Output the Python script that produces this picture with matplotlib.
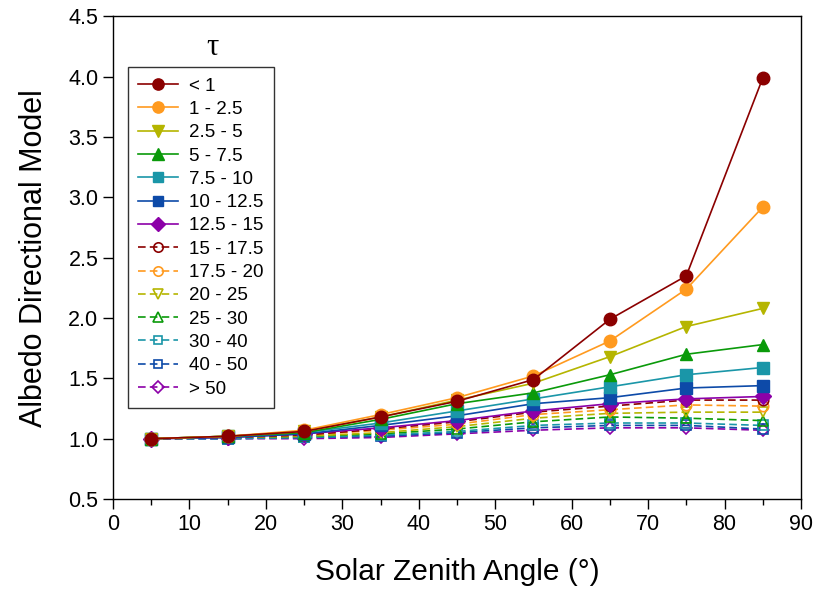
import matplotlib
matplotlib.use("Agg")
import matplotlib.pyplot as plt

plt.rcParams['font.family'] = ['Liberation Sans', 'DejaVu Sans']
plt.rcParams['lines.scale_dashes'] = False

sza = [5, 15, 25, 35, 45, 55, 65, 75, 85]

labels = ["< 1", "1 - 2.5", "2.5 - 5", "5 - 7.5", "7.5 - 10", "10 - 12.5",
          "12.5 - 15", "15 - 17.5", "17.5 - 20", "20 - 25", "25 - 30",
          "30 - 40", "40 - 50", "> 50"]

tau_lt1     = [1.00, 1.02, 1.06, 1.18, 1.31, 1.49, 1.99, 2.35, 3.99]
tau_1_25    = [1.00, 1.02, 1.07, 1.20, 1.34, 1.52, 1.81, 2.24, 2.92]
tau_25_5    = [1.00, 1.02, 1.06, 1.18, 1.32, 1.46, 1.68, 1.93, 2.08]
tau_5_75    = [1.00, 1.02, 1.05, 1.16, 1.29, 1.38, 1.53, 1.70, 1.78]
tau_75_10   = [1.00, 1.02, 1.05, 1.13, 1.23, 1.33, 1.43, 1.53, 1.59]
tau_10_125  = [1.00, 1.01, 1.04, 1.11, 1.19, 1.29, 1.34, 1.42, 1.44]
tau_125_15  = [1.00, 1.01, 1.04, 1.09, 1.15, 1.23, 1.29, 1.33, 1.35]
tau_15_175  = [1.00, 1.01, 1.03, 1.08, 1.14, 1.22, 1.27, 1.32, 1.32]
tau_175_20  = [1.00, 1.01, 1.03, 1.07, 1.12, 1.20, 1.24, 1.28, 1.27]
tau_20_25   = [1.00, 1.01, 1.02, 1.05, 1.10, 1.17, 1.21, 1.22, 1.22]
tau_25_30   = [1.00, 1.01, 1.02, 1.04, 1.08, 1.14, 1.18, 1.17, 1.15]
tau_30_40   = [1.00, 1.00, 1.01, 1.03, 1.06, 1.11, 1.13, 1.13, 1.11]
tau_40_50   = [1.00, 1.00, 1.01, 1.02, 1.05, 1.09, 1.11, 1.11, 1.08]
tau_gt50    = [1.00, 1.00, 1.00, 1.01, 1.04, 1.07, 1.09, 1.09, 1.07]

series = [tau_lt1, tau_1_25, tau_25_5, tau_5_75, tau_75_10, tau_10_125,
          tau_125_15, tau_15_175, tau_175_20, tau_20_25, tau_25_30,
          tau_30_40, tau_40_50, tau_gt50]

colors = ['#8b0000', '#ff9a1f', '#b5b500', '#0a9a0a', '#1a96a8', '#0d4aa8', '#8c00a8']
markers = ['o', 'o', 'v', '^', 's', 's', 'D']

fig = plt.figure(figsize=(8.17, 5.89), dpi=100)
ax = fig.add_axes([0.1383, 0.1528, 0.8421, 0.8192])

for i, (lab, vals) in enumerate(zip(labels, series)):
    c = colors[i % 7]
    m = markers[i % 7]
    filled = i < 7
    ms = 9 if m != 'D' else 8
    if m == 's':
        ms = 8.5
    if filled:
        ax.plot(sza, vals, color=c, lw=1.2, marker=m, ms=ms, mfc=c, mec=c,
                label=lab, zorder=3 + (14 - i))
    else:
        ax.plot(sza, vals, color=c, lw=1.2, ls=(0, (5.5, 3)), marker=m,
                ms=ms - 1.5, mfc='none', mec=c, mew=1.2, label=lab,
                zorder=3 + (14 - i))

ax.set_xlim(0, 90)
ax.set_ylim(0.5, 4.5)
ax.set_xticks(range(0, 91, 10))
ax.set_xticks(range(5, 90, 10), minor=True)
ax.set_yticks([0.5, 1.0, 1.5, 2.0, 2.5, 3.0, 3.5, 4.0, 4.5])
ax.set_yticklabels(['0.5', '1.0', '1.5', '2.0', '2.5', '3.0', '3.5', '4.0', '4.5'])
ax.tick_params(axis='both', which='major', direction='out', length=7, width=1,
               labelsize=15.5, colors='black')
ax.tick_params(axis='x', which='minor', direction='out', length=4, width=1)
for s in ax.spines.values():
    s.set_linewidth(1)
    s.set_color('black')

ax.set_xlabel('Solar Zenith Angle (°)', fontsize=21.5, labelpad=17)
ax.set_ylabel('Albedo Directional Model', fontsize=22, labelpad=14)

leg = ax.legend(loc='upper left', bbox_to_anchor=(0.0218, 0.895), fontsize=13.5,
                frameon=True, fancybox=False, edgecolor='black',
                labelspacing=0.33, handlelength=2.1, handletextpad=0.6,
                borderpad=0.55, markerscale=0.9, borderaxespad=0)
leg.get_frame().set_linewidth(1)

ax.text(0.145, 0.935, 'τ', transform=ax.transAxes, fontsize=22,
        ha='center', va='center', family=['Liberation Serif', 'DejaVu Serif'])

fig.savefig('out.png', dpi=100, facecolor='white')
